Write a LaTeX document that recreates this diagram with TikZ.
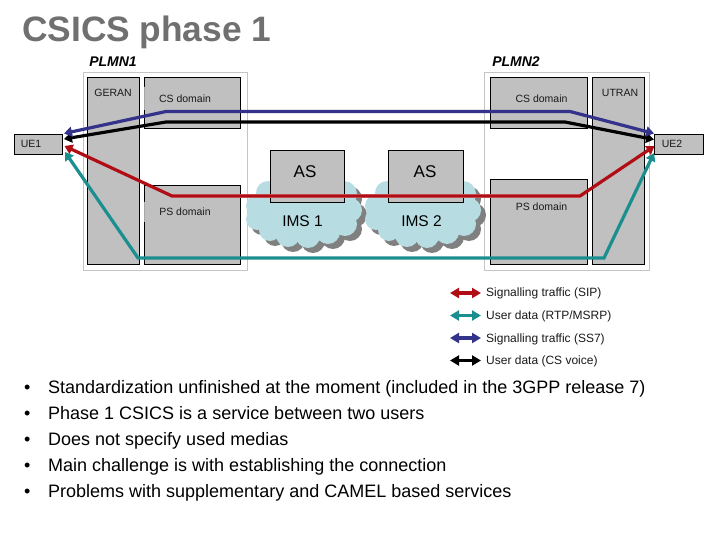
\documentclass[tikz,border=0pt]{standalone}
\usepackage{fontspec}
\setmainfont{Liberation Sans}
\usetikzlibrary{arrows.meta}
\definecolor{boxgrey}{HTML}{C0C0C0}
\definecolor{framegrey}{HTML}{C4C4C4}
\definecolor{cloudblue}{HTML}{B7DDE3}
\definecolor{shadowgrey}{HTML}{808080}
\definecolor{titlegrey}{HTML}{707070}
\definecolor{sipred}{HTML}{B00D14}
\definecolor{rtpteal}{HTML}{1B8F8F}
\definecolor{ssblue}{HTML}{33338C}
\definecolor{txtblack}{HTML}{1A1A1A}
\newcommand{\fs}[1]{\fontsize{#1}{#1}\selectfont}
\newcommand{\cloudblob}[3]{%
  \begin{scope}[shift={(#1,#2)}]
    \fill[#3] (58,40) ellipse[x radius=47,y radius=27]
      (12,34) circle[radius=12] (11,47) circle[radius=11]
      (24,58) circle[radius=11] (42,63) circle[radius=12]
      (62,64) circle[radius=12] (82,60) circle[radius=12]
      (99,52) circle[radius=12] (104,38) circle[radius=12]
      (98,22) circle[radius=13] (84,14) circle[radius=10]
      (60,12) circle[radius=10] (38,15) circle[radius=10] (22,21) circle[radius=12];
  \end{scope}}
\tikzset{
  x=1pt,y=-1pt,
  frame/.style={draw=framegrey,line width=1pt,fill=white,inner sep=0pt,anchor=north west},
  box/.style={draw=black,line width=0.8pt,fill=boxgrey,inner sep=0pt,anchor=north west,font=\fs{10.5},text=txtblack},
  lab/.style={font=\fs{10.5},text=txtblack,inner sep=0pt},
  keylab/.style={font=\fs{12},text=txtblack,inner sep=0pt,anchor=base west},
  big/.style={font=\fs{17},text=black,inner sep=0pt},
  ims/.style={font=\fs{15.5},text=black,inner sep=0pt},
  item/.style={font=\fs{18},text=black,inner sep=0pt,anchor=base west},
  flow/.style={line width=3.2pt,line join=miter,{Triangle[length=8pt,width=10pt]}-{Triangle[length=8pt,width=10pt]}},
  key/.style={line width=3.2pt,{Triangle[length=9pt,width=10pt]}-{Triangle[length=9pt,width=10pt]}},
  plmn/.style={font=\fs{14}\bfseries\itshape,text=black,inner sep=0pt}
}
\begin{document}
\begin{tikzpicture}
\useasboundingbox (0,0) rectangle (720,540);
\fill[white] (0,0) rectangle (720,540);
\node[font=\fs{35.3}\bfseries,text=titlegrey,inner sep=0pt,anchor=base west] (title) at (22,42) {CSICS phase 1};
\node[plmn] (plmn1) at (113,62) {PLMN1};
\node[plmn] (plmn2) at (516,62) {PLMN2};
% frames
\node[frame,minimum width=164pt,minimum height=198pt] (frame1) at (82.5,72) {};
\node[frame,minimum width=165pt,minimum height=198pt] (frame2) at (484,72) {};
% boxes
\node[box,minimum width=51.5pt,minimum height=187pt] (geran) at (87,77) {};
\node[box,minimum width=96pt,minimum height=51pt] (cs1) at (144,77) {};
\node[box,minimum width=96pt,minimum height=79pt] (ps1) at (144,185) {};
\node[box,minimum width=97pt,minimum height=51pt] (cs2) at (490,77) {};
\node[box,minimum width=97pt,minimum height=84.5pt] (ps2) at (490,179.5) {};
\node[box,minimum width=51.5pt,minimum height=187pt] (utran) at (592,77) {};
\fill[white] (143.4,87) rectangle (144.6,110) (143.4,202) rectangle (144.6,222);
\node[lab] (lgeran) at (113,92.5) {GERAN};
\node[lab] (lutran) at (620,92.5) {UTRAN};
\node[lab] (lcs1) at (185,99) {CS domain};
\node[lab] (lps1) at (185,212) {PS domain};
\node[lab] (lcs2) at (541.5,99) {CS domain};
\node[lab] (lps2) at (541.5,207) {PS domain};
% UEs
\node[box,minimum width=48pt,minimum height=20pt] (ue1) at (14,134) {};
\node[lab] (lue1) at (31,144) {UE1};
\node[box,minimum width=49pt,minimum height=20pt] (ue2) at (654,134) {};
\node[lab] (lue2) at (672,144) {UE2};
% clouds
\cloudblob{251}{177}{shadowgrey}
\cloudblob{370}{177}{shadowgrey}
\cloudblob{246}{172}{cloudblue}
\cloudblob{365}{172}{cloudblue}
\node[box,minimum width=74pt,minimum height=52pt] (as1) at (269.5,150) {};
\node[box,minimum width=74.5pt,minimum height=52pt] (as2) at (388,150) {};
\node[big] (las1) at (305,172) {AS};
\node[big] (las2) at (425,172) {AS};
\node[ims] (ims1) at (302.5,221) {IMS 1};
\node[ims] (ims2) at (421.5,221) {IMS 2};
% flow end points
\coordinate (bl) at (64,133.5); \coordinate (br) at (654,133.5);
\coordinate (kl) at (64,139);   \coordinate (kr) at (654,139.5);
\coordinate (rl) at (64.5,146); \coordinate (rr) at (654.5,146);
\coordinate (tl) at (65,152);   \coordinate (tr) at (654,153);
% flows
\draw[flow,draw=black] (kl) -- (166,122) -- (565,122) -- (kr);
\draw[flow,draw=ssblue] (bl) -- (166,111.5) -- (570,111.5) -- (br);
\draw[line width=4.6pt,draw=sipred!25] (172,196) -- (580,196);
\draw[flow,draw=sipred] (rl) -- (172,196) -- (580,196) -- (rr);
\draw[flow,draw=rtpteal] (tl) -- (138,258) -- (604,258) -- (tr);
% legend
\coordinate (k1a) at (450,293); \coordinate (k1b) at (481,293);
\coordinate (k2a) at (450,315.5); \coordinate (k2b) at (481,315.5);
\coordinate (k3a) at (450,338); \coordinate (k3b) at (481,338);
\coordinate (k4a) at (450,360.5); \coordinate (k4b) at (481,360.5);
\draw[key,draw=sipred] (k1a) -- (k1b);
\draw[key,draw=rtpteal] (k2a) -- (k2b);
\draw[key,draw=ssblue] (k3a) -- (k3b);
\draw[key,draw=black] (k4a) -- (k4b);
\node[keylab] (t1) at (486,296.5) {Signalling traffic (SIP)};
\node[keylab] (t2) at (486,319) {User data (RTP/MSRP)};
\node[keylab] (t3) at (486,342) {Signalling traffic (SS7)};
\node[keylab] (t4) at (486,364.5) {User data (CS voice)};
% bullets
\foreach \n/\y/\s in {1/393/Standardization unfinished at the moment (included in the 3GPP release 7),
  2/419/Phase 1 CSICS is a service between two users,
  3/445/Does not specify used medias,
  4/471/Main challenge is with establishing the connection,
  5/497/Problems with supplementary and CAMEL based services}{
  \node[item] (b\n) at (24,\y) {•};
  \node[item] (i\n) at (48,\y) {\s};
}
\end{tikzpicture}
\end{document}
